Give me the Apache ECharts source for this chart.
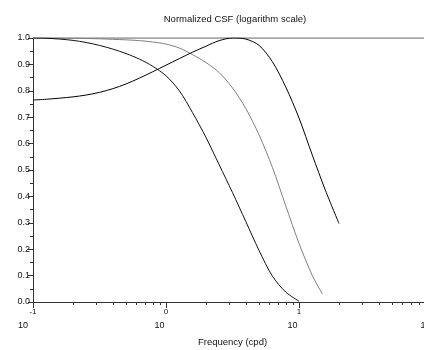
<!DOCTYPE html>
<html>
<head>
<meta charset="utf-8">
<script src="https://cdn.jsdelivr.net/npm/echarts@6/dist/echarts.min.js"></script>
<style>
  html, body { margin: 0; padding: 0; background: #fff; overflow: hidden; }
  #chart { width: 424px; height: 350px; }
</style>
</head>
<body>
<div id="chart"></div>
<script>
// curve peaking near 3 cpd
const freqA = [0.1, 0.126, 0.158, 0.2, 0.251, 0.316, 0.398, 0.501, 0.631, 0.794, 1, 1.26, 1.58, 2, 2.51, 3.16, 3.98, 5.01, 6.31, 7.94, 10, 12.6, 15.8, 20];
const csfA = [0.765, 0.768, 0.772, 0.777, 0.784, 0.794, 0.808, 0.826, 0.848, 0.872, 0.897, 0.922, 0.946, 0.969, 0.99, 1.0, 0.996, 0.972, 0.91, 0.815, 0.697, 0.556, 0.423, 0.297];

// low-pass curve, reaches 0 at 10 cpd
const freqB = [0.1, 0.126, 0.158, 0.2, 0.251, 0.316, 0.398, 0.501, 0.631, 0.794, 1, 1.26, 1.58, 2, 2.51, 3.16, 3.98, 5.01, 6.31, 7.94, 10];
const csfB = [1.0, 0.999, 0.996, 0.991, 0.983, 0.972, 0.958, 0.941, 0.92, 0.893, 0.857, 0.8, 0.718, 0.623, 0.52, 0.415, 0.305, 0.195, 0.098, 0.038, 0.003];

// gray low-pass curve, ends near 15 cpd
const freqC = [0.1, 0.126, 0.158, 0.2, 0.251, 0.316, 0.398, 0.501, 0.631, 0.794, 1, 1.26, 1.58, 2, 2.51, 3.16, 3.98, 5.01, 6.31, 7.94, 10, 12.6, 15];
const csfC = [1.0, 1.0, 0.999, 0.999, 0.998, 0.997, 0.995, 0.993, 0.99, 0.985, 0.977, 0.962, 0.937, 0.907, 0.869, 0.811, 0.733, 0.633, 0.51, 0.365, 0.222, 0.1, 0.03];

// reference level
const freqRef = [0.1, 100];
const csfRef = [1, 1];

const decadeTicks = [0.1, 1, 10, 100];
const minorTicks = [0.2, 0.3, 0.4, 0.5, 0.6, 0.7, 0.8, 0.9, 2, 3, 4, 5, 6, 7, 8, 9, 20, 30, 40, 50, 60, 70, 80, 90];

const pairs = (xs, ys) => xs.map((x, i) => [x, ys[i]]);
const font = 'Liberation Sans, Arial, sans-serif';

const chart = echarts.init(document.getElementById('chart'), null, { renderer: 'canvas' });

const line = (name, xs, ys, color, width, z) => ({
  name,
  type: 'line',
  data: pairs(xs, ys),
  smooth: 0.3,
  showSymbol: false,
  symbol: 'none',
  z,
  lineStyle: { color, width },
  animation: false
});

chart.setOption({
  animation: false,
  title: {
    text: 'Normalized CSF (logarithm scale)',
    left: 230,
    top: 9,
    textAlign: 'center',
    textStyle: { fontFamily: font, fontSize: 9.5, fontWeight: 'normal', color: '#111' }
  },
  grid: { left: 33, top: 38, width: 399, height: 264, containLabel: false, outerBoundsMode: 'none' },
  xAxis: [
    {
      type: 'log',
      logBase: 10,
      min: 0.1,
      max: 100,
      position: 'bottom',
      name: 'Frequency (cpd)',
      nameLocation: 'middle',
      nameGap: 35,
      nameTextStyle: { fontFamily: font, fontSize: 9.5, color: '#111' },
      axisLine: { show: true, lineStyle: { color: '#333', width: 1 } },
      axisTick: { show: true, inside: false, length: 6, customValues: decadeTicks, lineStyle: { color: '#333' } },
      splitLine: { show: false },
      axisLabel: {
        customValues: decadeTicks,
        margin: 4,
        fontFamily: font,
        color: '#111',
        formatter: v => {
          const e = Math.round(Math.log10(v));
          return '{e|' + e + '}\n{' + (e < 0 ? 'bn' : 'b') + '|10}';
        },
        rich: {
          e: { fontFamily: font, fontSize: 8, lineHeight: 11, color: '#111' },
          b: { fontFamily: font, fontSize: 9, lineHeight: 17, color: '#111', padding: [0, 13, 0, 0] },
          bn: { fontFamily: font, fontSize: 9, lineHeight: 17, color: '#111', padding: [0, 20, 0, 0] }
        }
      }
    },
    {
      type: 'log',
      logBase: 10,
      min: 0.1,
      max: 100,
      position: 'bottom',
      gridIndex: 0,
      axisLine: { show: false },
      axisLabel: { show: false },
      splitLine: { show: false },
      axisTick: { show: true, inside: false, length: 3, customValues: minorTicks, lineStyle: { color: '#333' } }
    }
  ],
  yAxis: {
    type: 'value',
    min: 0,
    max: 1,
    interval: 0.1,
    axisLine: { show: true, lineStyle: { color: '#333', width: 1 } },
    axisTick: { show: true, inside: false, length: 5, lineStyle: { color: '#333' } },
    minorTick: { show: true, splitNumber: 2, length: 3, lineStyle: { color: '#333' } },
    splitLine: { show: false },
    axisLabel: {
      margin: 3,
      fontFamily: font,
      fontSize: 9,
      color: '#111',
      formatter: v => v.toFixed(1)
    }
  },
  series: [
    line('ref', freqRef, csfRef, '#8a8a8a', 1.5, 1),
    line('C', freqC, csfC, '#7f7f7f', 1, 2),
    line('B', freqB, csfB, '#111', 1, 3),
    line('A', freqA, csfA, '#000', 1, 4)
  ]
});
</script>
</body>
</html>
